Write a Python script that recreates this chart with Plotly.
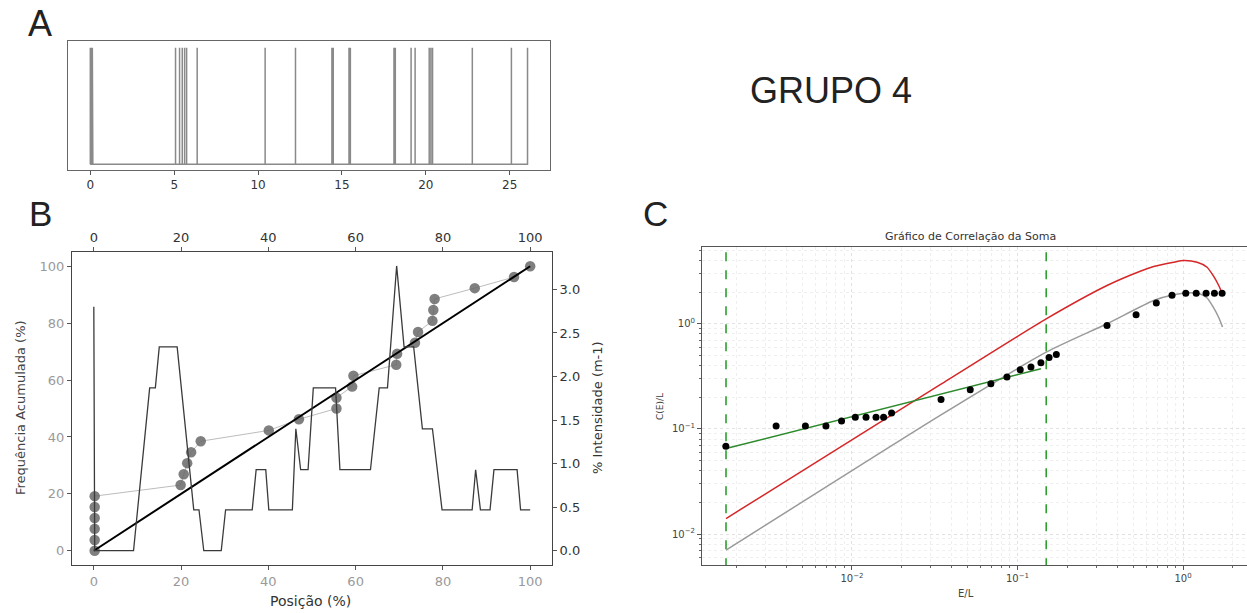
import plotly.graph_objects as go

# ---------------- Panel A: fracture positions (m) ----------------
frac_pos_m = [0.0, 0.03, 0.06, 0.09, 0.12, 0.15, 5.08, 5.32, 5.48, 5.62, 5.74, 6.37,
              10.42, 12.23, 14.40, 14.48, 15.42, 15.50, 18.10, 18.18, 19.12, 19.36,
              20.20, 20.30, 20.40, 22.77, 25.10, 26.06]
a_ticks = [0, 5, 10, 15, 20, 25]

# ---------------- Panel B ----------------
cum_pos_pct = [0.2, 0.2, 0.2, 0.2, 0.2, 0.2, 19.9, 20.6, 21.4, 22.3, 24.5, 40.1, 47.0,
               55.6, 55.6, 59.2, 59.5, 69.3, 69.5, 73.6, 74.3, 77.6, 77.8, 78.1,
               87.3, 96.3, 100.0]
cum_freq = [0.0, 3.8, 7.7, 11.5, 15.4, 19.2, 23.1, 26.9, 30.8, 34.6, 38.5, 42.3, 46.2,
            50.0, 53.8, 57.7, 61.5, 65.4, 69.2, 73.1, 76.9, 80.8, 84.6, 88.5,
            92.3, 96.2, 100.0]
int_pos_pct = [0.0, 0.2, 9.1, 12.8, 14.1, 15.0, 19.1, 22.9, 24.1, 25.2, 29.2, 30.2,
               36.3, 37.2, 39.4, 40.1, 45.5, 46.3, 47.4, 49.1, 50.3, 55.4, 56.4,
               63.4, 65.4, 67.3, 69.4, 71.1, 73.3, 75.3, 77.6, 79.8, 86.7, 87.5,
               88.6, 90.8, 91.7, 97.0, 97.8, 100.0]
intensity = [2.80, 0.0, 0.0, 1.87, 1.87, 2.34, 2.34, 0.47, 0.47, 0.0, 0.0, 0.47,
             0.47, 0.93, 0.93, 0.47, 0.47, 1.40, 0.93, 0.93, 1.87, 1.87, 0.93,
             0.93, 1.87, 1.87, 3.27, 2.34, 2.34, 1.40, 1.40, 0.47, 0.47, 0.93,
             0.47, 0.47, 0.93, 0.93, 0.47, 0.47]
fit_x = [0, 100]
fit_y = [0, 100]
b_ticks = [0, 20, 40, 60, 80, 100]
b_right_ticks = [0.0, 0.5, 1.0, 1.5, 2.0, 2.5, 3.0]
b_right_labels = ["0.0", "0.5", "1.0", "1.5", "2.0", "2.5", "3.0"]

# ---------------- Panel C ----------------
el_x = [0.00173, 0.00348, 0.00523, 0.00696, 0.00865, 0.01047, 0.01216, 0.01397,
        0.01552, 0.01734, 0.0345, 0.0518, 0.069, 0.0863, 0.1038, 0.1205, 0.1384,
        0.155, 0.1715, 0.347, 0.52, 0.689, 0.857, 1.038, 1.2, 1.377, 1.546, 1.72]
cel_y = [0.0684, 0.1066, 0.1066, 0.1066, 0.119, 0.129, 0.129, 0.129, 0.129, 0.1416,
         0.19, 0.236, 0.269, 0.311, 0.366, 0.387, 0.426, 0.479, 0.511, 0.964, 1.217,
         1.58, 1.87, 1.954, 1.954, 1.954, 1.954, 1.954]
red_x = [0.001734, 0.0341, 0.149, 0.347, 0.551, 0.664, 0.877, 1.009, 1.216, 1.396,
         1.531, 1.641, 1.722]
red_y = [0.01406, 0.2636, 1.114, 2.312, 3.162, 3.499, 3.846, 3.99, 3.846, 3.451,
         2.818, 2.312, 1.954]
gray_x = [0.001734, 0.0341, 0.149, 0.347, 0.664, 0.877, 1.096, 1.259, 1.396, 1.521,
          1.641, 1.73]
gray_y = [0.00703, 0.1346, 0.537, 1.0, 1.663, 1.884, 1.972, 1.928, 1.758, 1.439,
          1.148, 0.933]
green_x = [0.001734, 0.1384]
green_y = [0.065, 0.374]
vline_x = [0.001734, 0.149]
c_xticks = [0.01, 0.1, 1]
c_xlabels = ["10<sup>−2</sup>", "10<sup>−1</sup>", "10<sup>0</sup>"]
c_yticks = [0.01, 0.1, 1]
c_ylabels = ["10<sup>−2</sup>", "10<sup>−1</sup>", "10<sup>0</sup>"]

W, H = 1247, 613
def px(x): return x / W
def py(y): return 1 - y / H

MPL = "DejaVu Sans"
ARIAL = "Liberation Sans"

fig = go.Figure()

# Panel A spikes
ax_, ay_ = [], []
for p in frac_pos_m:
    ax_ += [p, p, p]
    ay_ += [0, 1, 0]
fig.add_trace(go.Scatter(x=ax_, y=ay_, mode="lines", xaxis="x", yaxis="y",
                         line=dict(color="#8a8a8a", width=1.5), showlegend=False, hoverinfo="skip"))

# Panel B
fig.add_trace(go.Scatter(x=cum_pos_pct, y=cum_freq, mode="lines+markers", xaxis="x2", yaxis="y2",
                         line=dict(color="rgba(160,160,160,0.7)", width=1),
                         marker=dict(color="rgba(105,105,105,0.85)", size=10.5),
                         showlegend=False))
fig.add_trace(go.Scatter(x=fit_x, y=fit_y, mode="lines", xaxis="x2", yaxis="y2",
                         line=dict(color="black", width=2), showlegend=False))
fig.add_trace(go.Scatter(x=int_pos_pct, y=intensity, mode="lines", xaxis="x2", yaxis="y3",
                         line=dict(color="#3a3a3a", width=1.3), showlegend=False))
# invisible trace to activate the top axis
fig.add_trace(go.Scatter(x=fit_x, y=fit_y, mode="lines", xaxis="x3", yaxis="y2",
                         line=dict(color="rgba(0,0,0,0)", width=0), showlegend=False, hoverinfo="skip"))

# Panel C
for vx in vline_x:
    fig.add_trace(go.Scatter(x=[vx, vx], y=[1e-3, 10], mode="lines", xaxis="x4", yaxis="y4",
                             line=dict(color="#2ca02c", width=1.6, dash="dash"), showlegend=False))
fig.add_trace(go.Scatter(x=red_x, y=red_y, mode="lines", xaxis="x4", yaxis="y4",
                         line=dict(color="#d62728", width=1.5, shape="spline", smoothing=0.6),
                         showlegend=False))
fig.add_trace(go.Scatter(x=gray_x, y=gray_y, mode="lines", xaxis="x4", yaxis="y4",
                         line=dict(color="#9a9a9a", width=1.5, shape="spline", smoothing=0.6),
                         showlegend=False))
fig.add_trace(go.Scatter(x=green_x, y=green_y, mode="lines", xaxis="x4", yaxis="y4",
                         line=dict(color="#2c8a2c", width=1.5), showlegend=False))
fig.add_trace(go.Scatter(x=el_x, y=cel_y, mode="markers", xaxis="x4", yaxis="y4",
                         marker=dict(color="black", size=7), showlegend=False))

def minor_vals(dmin, dmax):
    v = []
    for d in range(dmin, dmax + 1):
        for k in range(2, 10):
            v.append(k * 10 ** d)
    return v

box = dict(showline=True, mirror=True, linewidth=1, showgrid=False, zeroline=False)

fig.update_layout(
    width=W, height=H, margin=dict(l=0, r=0, t=0, b=0),
    paper_bgcolor="white", plot_bgcolor="white", showlegend=False,
    font=dict(family=MPL, color="#333"),
    xaxis=dict(domain=[px(68), px(550)], anchor="y", range=[-1.33, 27.4],
               tickmode="array", tickvals=a_ticks, ticks="outside", ticklen=4,
               tickcolor="#555", linecolor="#666",
               tickfont=dict(family=MPL, size=12, color="#333"), **box),
    yaxis=dict(domain=[py(170), py(41)], anchor="x", range=[-0.05, 1.057],
               showticklabels=False, ticks="", linecolor="#666", **box),
    xaxis2=dict(domain=[px(72), px(552)], anchor="y2", range=[-5, 105],
                tickmode="array", tickvals=b_ticks, ticks="outside", ticklen=4,
                tickcolor="#555", linecolor="#444",
                tickfont=dict(family=MPL, size=13, color="#9a9a9a"), **box),
    xaxis3=dict(overlaying="x2", side="top", anchor="y2", range=[-5, 105],
                tickmode="array", tickvals=b_ticks, ticks="outside", ticklen=4,
                tickcolor="#555", showline=False, showgrid=False, zeroline=False,
                tickfont=dict(family=MPL, size=13, color="#333")),
    yaxis2=dict(domain=[py(565), py(252)], anchor="x2", range=[-5, 105],
                tickmode="array", tickvals=b_ticks, ticks="outside", ticklen=4,
                tickcolor="#555", linecolor="#444",
                tickfont=dict(family=MPL, size=13, color="#9a9a9a"), **box),
    yaxis3=dict(overlaying="y2", side="right", anchor="x2", range=[-0.164, 3.43],
                tickmode="array", tickvals=b_right_ticks, ticktext=b_right_labels,
                ticks="outside", ticklen=4, tickcolor="#555",
                showline=False, showgrid=False, zeroline=False,
                tickfont=dict(family=MPL, size=13, color="#333")),
    xaxis4=dict(domain=[px(702), 1.0], anchor="y4", type="log", range=[-2.906, 0.386],
                tickmode="array", tickvals=c_xticks, ticktext=c_xlabels,
                ticks="outside", ticklen=4, tickcolor="#555", linecolor="#555",
                showline=True, mirror=True, zeroline=False,
                showgrid=True, gridcolor="#e2e2e2", griddash="dot", gridwidth=0.8,
                minor=dict(tickmode="array", tickvals=minor_vals(-3, 0), ticks="outside",
                           ticklen=2, tickcolor="#666", showgrid=True,
                           gridcolor="#efefef", griddash="dot", gridwidth=0.7),
                tickfont=dict(family=MPL, size=10, color="#444")),
    yaxis4=dict(domain=[py(565), py(247)], anchor="x4", type="log", range=[-2.294, 0.73],
                tickmode="array", tickvals=c_yticks, ticktext=c_ylabels,
                ticks="outside", ticklen=4, tickcolor="#555", linecolor="#555",
                showline=True, mirror=True, zeroline=False,
                showgrid=True, gridcolor="#e2e2e2", griddash="dot", gridwidth=0.8,
                minor=dict(tickmode="array", tickvals=minor_vals(-3, 0), ticks="outside",
                           ticklen=2, tickcolor="#666", showgrid=True,
                           gridcolor="#efefef", griddash="dot", gridwidth=0.7),
                tickfont=dict(family=MPL, size=10, color="#444")),
)

annotations = [
    dict(text="A", x=px(40), y=py(24), font=dict(family=ARIAL, size=36, color="#222")),
    dict(text="B", x=px(40.5), y=py(213), font=dict(family=ARIAL, size=35, color="#222")),
    dict(text="C", x=px(655), y=py(213), font=dict(family=ARIAL, size=35, color="#222")),
    dict(text="GRUPO 4", x=px(830.5), y=py(90), font=dict(family=ARIAL, size=36, color="#222")),
    dict(text="Posição (%)", x=px(310), y=py(601), font=dict(family=MPL, size=14, color="#333")),
    dict(text="Frequência Acumulada (%)", x=px(20), y=py(408), textangle=-90,
         font=dict(family=MPL, size=13, color="#444")),
    dict(text="% Intensidade (m-1)", x=px(597), y=py(408), textangle=-90,
         font=dict(family=MPL, size=13, color="#333")),
    dict(text="Gráfico de Correlação da Soma", x=px(971), y=py(237),
         font=dict(family=MPL, size=11, color="#333")),
    dict(text="C(E)/L", x=px(660), y=py(407), textangle=-90,
         font=dict(family=MPL, size=9, color="#444")),
    dict(text="E/L", x=px(966), y=py(593), font=dict(family=MPL, size=10, color="#444")),
]
for a in annotations:
    a.update(xref="paper", yref="paper", showarrow=False, xanchor="center", yanchor="middle")
fig.update_layout(annotations=annotations)

fig.write_html("out.html", config={"displayModeBar": False},
               post_script="document.body.style.margin='0';document.body.style.overflow='hidden';")
